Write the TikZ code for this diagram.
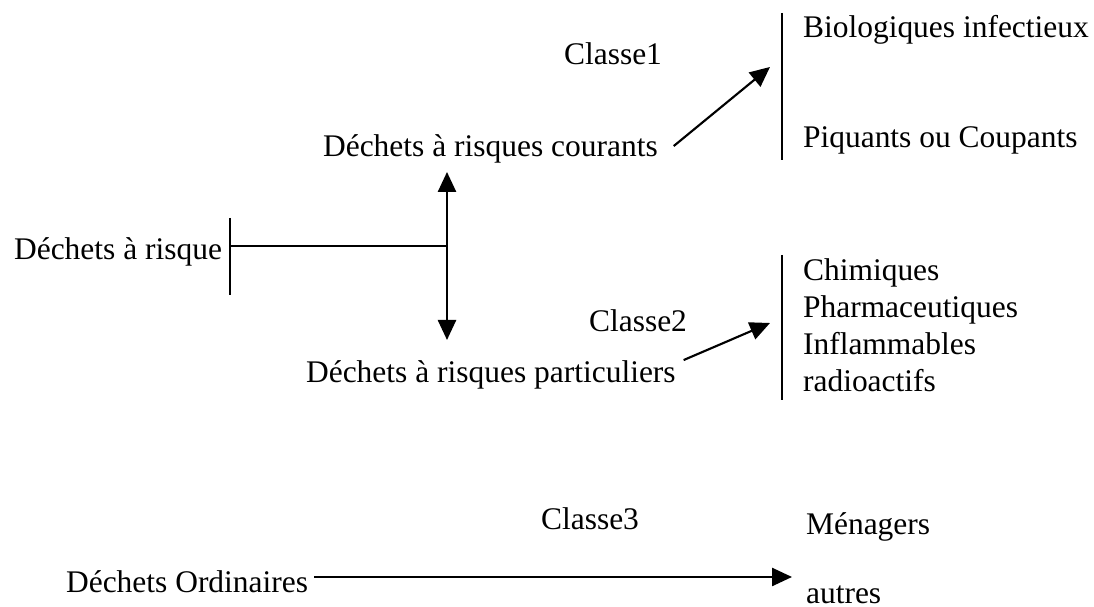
\documentclass[tikz,border=0pt]{standalone}
\usepackage{fontspec}
\setmainfont{Liberation Serif}
\usepackage{tikz}
\usetikzlibrary{arrows.meta}
\tikzset{
    wastebase/.style={
        x=0.375pt, y=-0.375pt,
        >={Triangle[length=7.5pt,width=6.8pt]},
        line width=0.8pt,
    },
    wastetext/.style={anchor=base west, inner sep=0pt, font=\fontsize{11.8}{14}\selectfont},
}
\newcommand{\classbar}[3]{\draw (#1,#2) -- (#1,#3);}

\begin{document}
\begin{tikzpicture}[wastebase]
    \useasboundingbox (0,0) rectangle (1094,607);
    % risk waste and its two branches
    \node[wastetext] (risque) at (13,260) {Déchets à risque};
    \classbar{230}{218}{295}
    \coordinate (rootbar) at (230,246);
    \coordinate (fork) at (447,246);
    \coordinate (uptip) at (447,172);
    \coordinate (downtip) at (447,340);
    \draw (rootbar) -- (fork);
    \draw[->] (fork) -- (uptip);
    \draw[->] (fork) -- (downtip);
    \node[wastetext] (courants) at (322,157) {Déchets à risques courants};
    \node[wastetext] (particuliers) at (305,383) {Déchets à risques particuliers};
    % classe 1
    \node[wastetext] (classe1) at (563,65) {Classe1};
    \classbar{782}{13}{160}
    \coordinate (tip1) at (770,67);
    \draw[->] ([xshift=5.6pt,yshift=4.1pt]courants.base east) -- (tip1);
    \node[wastetext] (bio) at (802,38) {Biologiques infectieux};
    \node[wastetext] (piq) at (802,148) {Piquants ou Coupants};
    % classe 2
    \node[wastetext] (classe2) at (588,332) {Classe2};
    \classbar{782}{255}{400}
    \coordinate (tip2) at (770,323);
    \draw[->] ([xshift=2.6pt,yshift=8.6pt]particuliers.base east) -- (tip2);
    \foreach \word [count=\i] in {Chimiques,Pharmaceutiques,Inflammables,radioactifs}
        \node[wastetext] (special\i) at (802,{281+37*(\i-1)}) {\word};
    % classe 3
    \node[wastetext] (ordinaires) at (65,593) {Déchets Ordinaires};
    \node[wastetext] (classe3) at (540,530) {Classe3};
    \coordinate (tip3) at (792,577);
    \draw[->] ([xshift=1.9pt,yshift=6pt]ordinaires.base east) -- (tip3);
    \node[wastetext] (menagers) at (805,535) {Ménagers};
    \node[wastetext] (autres) at (805,604) {autres};
\end{tikzpicture}
\end{document}
